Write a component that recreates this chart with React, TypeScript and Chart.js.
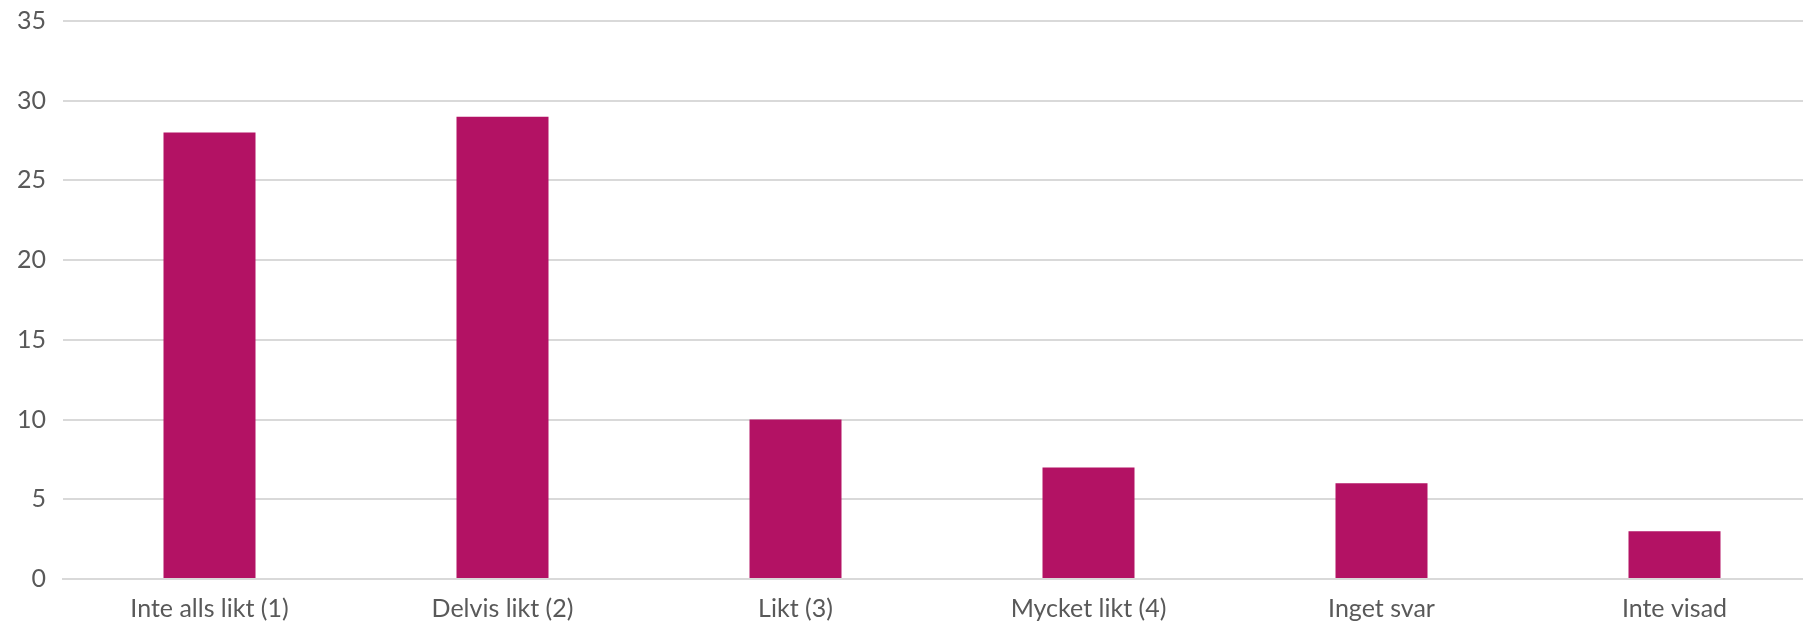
import React, { useEffect, useRef } from "react";
import { Chart, registerables } from "chart.js";

Chart.register(...registerables);

const categories = ["Inte alls likt (1)", "Delvis likt (2)", "Likt (3)", "Mycket likt (4)", "Inget svar", "Inte visad"];
const values = [28, 29, 10, 7, 6, 3];
const yMin = 0;
const yMax = 35;
const yStep = 5;

export default function App() {
  const ref = useRef<HTMLCanvasElement | null>(null);
  useEffect(() => {
    if (!ref.current) return;
    const chart = new Chart(ref.current, {
      type: "bar",
      data: {
        labels: categories,
        datasets: [
          {
            data: values,
            backgroundColor: "#b31264",
            borderWidth: 0,
            categoryPercentage: 1,
            barPercentage: 0.314,
          },
        ],
      },
      options: {
        animation: false,
        responsive: false,
        maintainAspectRatio: false,
        layout: { padding: { top: 0, bottom: 0, left: 0, right: 0 } },
        plugins: { legend: { display: false }, tooltip: { enabled: false } },
        scales: {
          x: {
            grid: { display: false },
            border: { color: "#d9d9d9", width: 2 },
            ticks: {
              color: "#595959",
              font: { family: "Lato, 'Open Sans', sans-serif", size: 25 },
              padding: 7,
              maxRotation: 0,
            },
          },
          y: {
            min: yMin,
            max: yMax,
            grid: { color: "#d9d9d9", lineWidth: 2, drawTicks: false },
            border: { display: false },
            ticks: {
              stepSize: yStep,
              color: "#595959",
              font: { family: "Lato, 'Open Sans', sans-serif", size: 25 },
              padding: 17,
            },
          },
        },
      },
    });
    return () => chart.destroy();
  }, []);
  return (
    <div style={{ position: "fixed", left: 0, top: -11, width: 1821, height: 642, background: "#fff" }}>
      <canvas ref={ref} width={1821} height={642} style={{ display: "block" }} />
    </div>
  );
}
